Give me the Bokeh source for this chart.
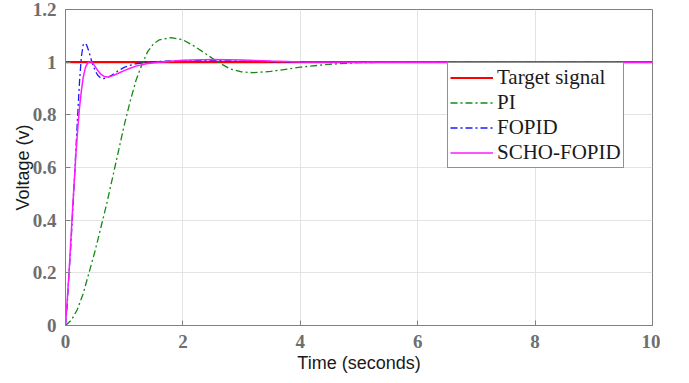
from bokeh.plotting import figure
from bokeh.models import Legend, LegendItem, FixedTicker
from bokeh.embed import file_html
from bokeh.resources import INLINE

# ---- data ----
t_target = [0, 10]
y_target = [1, 1]

t_pi = [0, 0.1, 0.2, 0.3, 0.4, 0.5, 0.6, 0.7, 0.8, 0.9, 1.0, 1.1, 1.2, 1.3, 1.4, 1.5, 1.6, 1.8,
        2.0, 2.2, 2.4, 2.6, 2.8, 3.0, 3.2, 3.5, 4.0, 4.5, 5.0, 5.5, 6.0, 10]
y_pi = [0, 0.02, 0.06, 0.12, 0.2, 0.28, 0.37, 0.46, 0.56, 0.66, 0.76, 0.85, 0.93, 0.99, 1.04,
        1.07, 1.085, 1.093, 1.085, 1.06, 1.03, 1.0, 0.975, 0.963, 0.96, 0.965, 0.981, 0.992,
        0.998, 1.0, 1.0, 1.0]

t_fopid = [0, 0.03, 0.06, 0.09, 0.12, 0.15, 0.18, 0.21, 0.24, 0.27, 0.3, 0.33, 0.36, 0.4, 0.45,
           0.5, 0.55, 0.6, 0.65, 0.7, 0.8, 0.9, 1.0, 1.1, 1.2, 1.4, 1.6, 2.0, 2.5, 3.0, 3.5, 4.0,
           5.0, 10]
y_fopid = [0, 0.08, 0.2, 0.3, 0.42, 0.55, 0.68, 0.81, 0.93, 1.02, 1.065, 1.072, 1.065, 1.04, 1.0,
           0.97, 0.95, 0.94, 0.938, 0.94, 0.952, 0.968, 0.98, 0.988, 0.994, 1.0, 1.003, 1.006,
           1.006, 1.004, 1.002, 1.0, 1.0, 1.0]

t_scho = [0, 0.03, 0.06, 0.09, 0.12, 0.15, 0.18, 0.21, 0.24, 0.27, 0.3, 0.34, 0.38, 0.42, 0.46,
          0.5, 0.55, 0.6, 0.65, 0.7, 0.75, 0.8, 0.9, 1.0, 1.1, 1.2, 1.4, 1.6, 2.0, 2.5, 3.0, 3.5,
          4.0, 5.0, 10]
y_scho = [0, 0.1, 0.2, 0.32, 0.44, 0.55, 0.66, 0.75, 0.83, 0.89, 0.94, 0.98, 0.998, 1.003, 0.998,
          0.985, 0.968, 0.955, 0.947, 0.944, 0.945, 0.948, 0.958, 0.968, 0.977, 0.985, 0.995, 1.0,
          1.007, 1.01, 1.008, 1.004, 1.001, 1.0, 1.0]

x_ticks = [0, 2, 4, 6, 8, 10]
y_ticks = [0, 0.2, 0.4, 0.6, 0.8, 1, 1.2]
y_tick_labels = {0: "0", 0.2: "0.2", 0.4: "0.4", 0.6: "0.6", 0.8: "0.8", 1: "1", 1.2: "1.2"}

# ---- figure ----
p = figure(width=660, height=375, x_range=(0, 10), y_range=(0, 1.2),
           output_backend="svg", toolbar_location=None,
           min_border_left=65, min_border_right=8, min_border_top=9, min_border_bottom=48)
p.outline_line_color = "#808080"
p.outline_line_width = 1
p.background_fill_color = "white"

axis_gray = "#808080"
tick_font = "Liberation Serif"
for ax in (p.xaxis[0], p.yaxis[0]):
    ax.axis_line_color = axis_gray
    ax.major_tick_line_color = axis_gray
    ax.major_tick_in = 5
    ax.major_tick_out = 0
    ax.minor_tick_line_color = None
    ax.major_label_text_font = tick_font
    ax.major_label_text_font_style = "bold"
    ax.major_label_text_font_size = "19px"
    ax.major_label_text_color = "#6e6e6e"

p.xaxis.ticker = FixedTicker(ticks=x_ticks)
p.yaxis.ticker = FixedTicker(ticks=y_ticks)
p.yaxis.major_label_overrides = y_tick_labels
p.xaxis.major_label_standoff = 9
p.yaxis.major_label_standoff = 9

p.xaxis.axis_label = "Time (seconds)"
p.yaxis.axis_label = "Voltage (v)"
for ax in (p.xaxis[0], p.yaxis[0]):
    ax.axis_label_text_font = "Liberation Sans"
    ax.axis_label_text_font_style = "normal"
    ax.axis_label_text_font_size = "18px"
    ax.axis_label_text_color = "#1a1a1a"
p.xaxis.axis_label_standoff = 2
p.yaxis.axis_label_standoff = -3

p.grid.grid_line_color = "#e3e3e3"
p.xgrid.ticker = FixedTicker(ticks=x_ticks)
p.ygrid.ticker = FixedTicker(ticks=y_ticks)

# ---- lines ----
r_target = p.line(t_target, y_target, line_color="#ff0000", line_width=2.2)
r_pi = p.line(t_pi, y_pi, line_color="#138a13", line_width=1.3, line_dash="7 3 2 3")
r_fopid = p.line(t_fopid, y_fopid, line_color="#1a1aff", line_width=1.3, line_dash="7 3 2 3")
r_scho = p.line(t_scho, y_scho, line_color="#ff1aff", line_width=1.5)

legend = Legend(items=[
    LegendItem(label="Target signal", renderers=[r_target]),
    LegendItem(label="PI", renderers=[r_pi]),
    LegendItem(label="FOPID", renderers=[r_fopid]),
    LegendItem(label="SCHO-FOPID", renderers=[r_scho]),
], location=(382, 157))
legend.label_text_font = "Liberation Serif"
legend.label_text_font_size = "21px"
legend.label_text_color = "#1a1a1a"
legend.glyph_width = 43
legend.glyph_height = 21
legend.label_height = 21
legend.spacing = 0
legend.padding = 2
legend.margin = 0
legend.label_standoff = 4
legend.border_line_color = "#262626"
legend.border_line_width = 1
legend.background_fill_color = "white"
legend.background_fill_alpha = 1
p.add_layout(legend)

open("out.html", "w").write(file_html(p, INLINE))
